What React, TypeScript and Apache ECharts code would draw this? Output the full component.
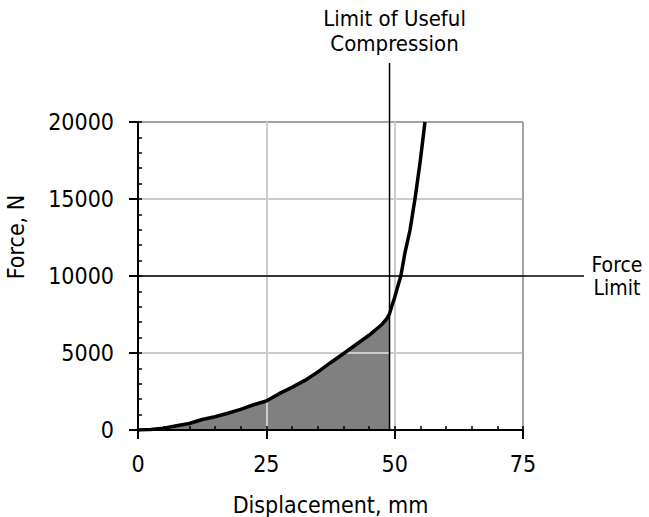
import React, { useEffect, useRef } from "react";
import * as echarts from "echarts";

// Displacement (mm) and force (N)
const displacement = [0, 2.5, 5, 7.5, 10, 12.5, 15, 17.5, 20, 22.5, 25, 27.5, 30, 32.5, 35, 37.5, 40, 42.5, 45, 47.5, 48.5, 49, 49.5, 50, 50.5, 51.2, 52, 53, 54, 55, 55.9];
const force = [0, 30, 120, 280, 420, 680, 860, 1090, 1340, 1640, 1880, 2360, 2770, 3220, 3760, 4370, 4950, 5550, 6150, 6850, 7250, 7550, 8100, 8600, 9200, 10000, 11500, 13000, 15100, 17500, 20000];

const usefulCompressionLimit = 49; // mm
const forceLimit = 10000; // N

const xMin = 0, xMax = 75, xMajor = 25, xMinor = 5;
const yMin = 0, yMax = 20000, yMajor = 5000, yMinor = 1000;

const xTitle = "Displacement, mm";
const yTitle = "Force, N";
const limitLabelLines = ["Limit of Useful", "Compression"];
const forceLabelLines = ["Force", "Limit"];

const FONT = "'DejaVu Sans Condensed', 'Liberation Sans Narrow', 'DejaVu Sans', sans-serif";

export default function App() {
  const ref = useRef<HTMLDivElement>(null);
  useEffect(() => {
    if (!ref.current) return;
    const chart = echarts.init(ref.current, undefined, { renderer: "svg" });
    const curve = displacement.map((x, i) => [x, force[i]]);
    const fill = curve.filter((p) => p[0] <= usefulCompressionLimit);
    const gridColor = "#cccccc";
    const borderColor = "#a4a4a4";
    const plain = (v: number) => String(v);
    chart.setOption({
      animation: false,
      backgroundColor: "#ffffff",
      textStyle: { fontFamily: FONT },
      grid: { left: 138, top: 122, width: 385, height: 308, show: false },
      xAxis: [
        {
          type: "value", min: xMin, max: xMax, interval: xMajor, position: "bottom", z: 5,
          axisLine: { show: true, onZero: false, lineStyle: { color: "#000", width: 2 } },
          axisTick: { show: true, inside: false, length: 9, lineStyle: { color: "#000", width: 2 } },
          axisLabel: { show: true, margin: 22, fontSize: 23, color: "#000", fontFamily: FONT, formatter: plain },
          splitLine: { show: true, lineStyle: { color: [gridColor, gridColor, gridColor, borderColor], width: 2 } },
        },
        {
          type: "value", min: xMin, max: xMax, interval: xMinor, position: "bottom", z: 5,
          axisLine: { show: false, onZero: false },
          axisTick: { show: true, inside: true, length: 4, lineStyle: { color: "#000", width: 1.5 } },
          axisLabel: { show: false },
          splitLine: { show: false },
        },
      ],
      yAxis: [
        {
          type: "value", min: yMin, max: yMax, interval: yMajor, position: "left", z: 5,
          axisLine: { show: true, onZero: false, lineStyle: { color: "#000", width: 2 } },
          axisTick: { show: true, inside: false, length: 9, lineStyle: { color: "#000", width: 2 } },
          axisLabel: { show: true, margin: 24, fontSize: 23, color: "#000", fontFamily: FONT, formatter: plain },
          splitLine: { show: true, lineStyle: { color: [gridColor, gridColor, gridColor, gridColor, borderColor], width: 2 } },
        },
        {
          type: "value", min: yMin, max: yMax, interval: yMinor, position: "left", z: 5,
          axisLine: { show: false, onZero: false },
          axisTick: { show: true, inside: true, length: 4, lineStyle: { color: "#000", width: 1.5 } },
          axisLabel: { show: false },
          splitLine: { show: false },
        },
      ],
      series: [
        {
          type: "line", data: fill, xAxisIndex: 0, yAxisIndex: 0, z: 2,
          showSymbol: false, symbol: "none",
          lineStyle: { width: 0, color: "#808080" },
          areaStyle: { color: "#808080", opacity: 1, origin: "start" },
          silent: true,
        },
        {
          type: "line", data: curve, xAxisIndex: 0, yAxisIndex: 0, z: 10,
          showSymbol: false, symbol: "none",
          lineStyle: { width: 3.5, color: "#000", join: "round" },
          silent: true,
        },
      ],
    });

    const base = chart.convertToPixel({ gridIndex: 0 }, [usefulCompressionLimit, yMin]) as number[];
    const fl = chart.convertToPixel({ gridIndex: 0 }, [xMin, forceLimit]) as number[];
    const mid = chart.convertToPixel({ gridIndex: 0 }, [(xMin + xMax) / 2, (yMin + yMax) / 2]) as number[];
    const right = chart.convertToPixel({ gridIndex: 0 }, [xMax, yMax]) as number[];
    const bottom = base[1];
    const top = right[1];

    const txt = (text: string, x: number, y: number, size: number, extra: any = {}) => ({
      type: "text", z: 20, x, y, ...extra,
      style: { text, fill: "#000", font: `${size}px ${FONT}`, align: "center", verticalAlign: "middle" },
    });

    chart.setOption({
      graphic: [
        {
          type: "line", z: 20,
          shape: { x1: base[0], y1: bottom, x2: base[0], y2: top - 59 },
          style: { stroke: "#000", lineWidth: 1.5 },
        },
        {
          type: "line", z: 20,
          shape: { x1: fl[0], y1: fl[1], x2: right[0] + 61, y2: fl[1] },
          style: { stroke: "#000", lineWidth: 1.5 },
        },
        txt(limitLabelLines[0], base[0] + 5, 18, 22),
        txt(limitLabelLines[1], base[0] + 5, 43, 22),
        txt(forceLabelLines[0], right[0] + 94, fl[1] - 11, 21),
        txt(forceLabelLines[1], right[0] + 94, fl[1] + 12, 21),
        txt(xTitle, mid[0], bottom + 75, 23),
        txt(yTitle, 16, mid[1] - 39, 23, { rotation: Math.PI / 2 }),
      ],
    });

    return () => chart.dispose();
  }, []);
  return (
    <div
      ref={ref}
      style={{ position: "fixed", left: 0, top: 0, width: 649, height: 517, background: "#fff" }}
    />
  );
}
